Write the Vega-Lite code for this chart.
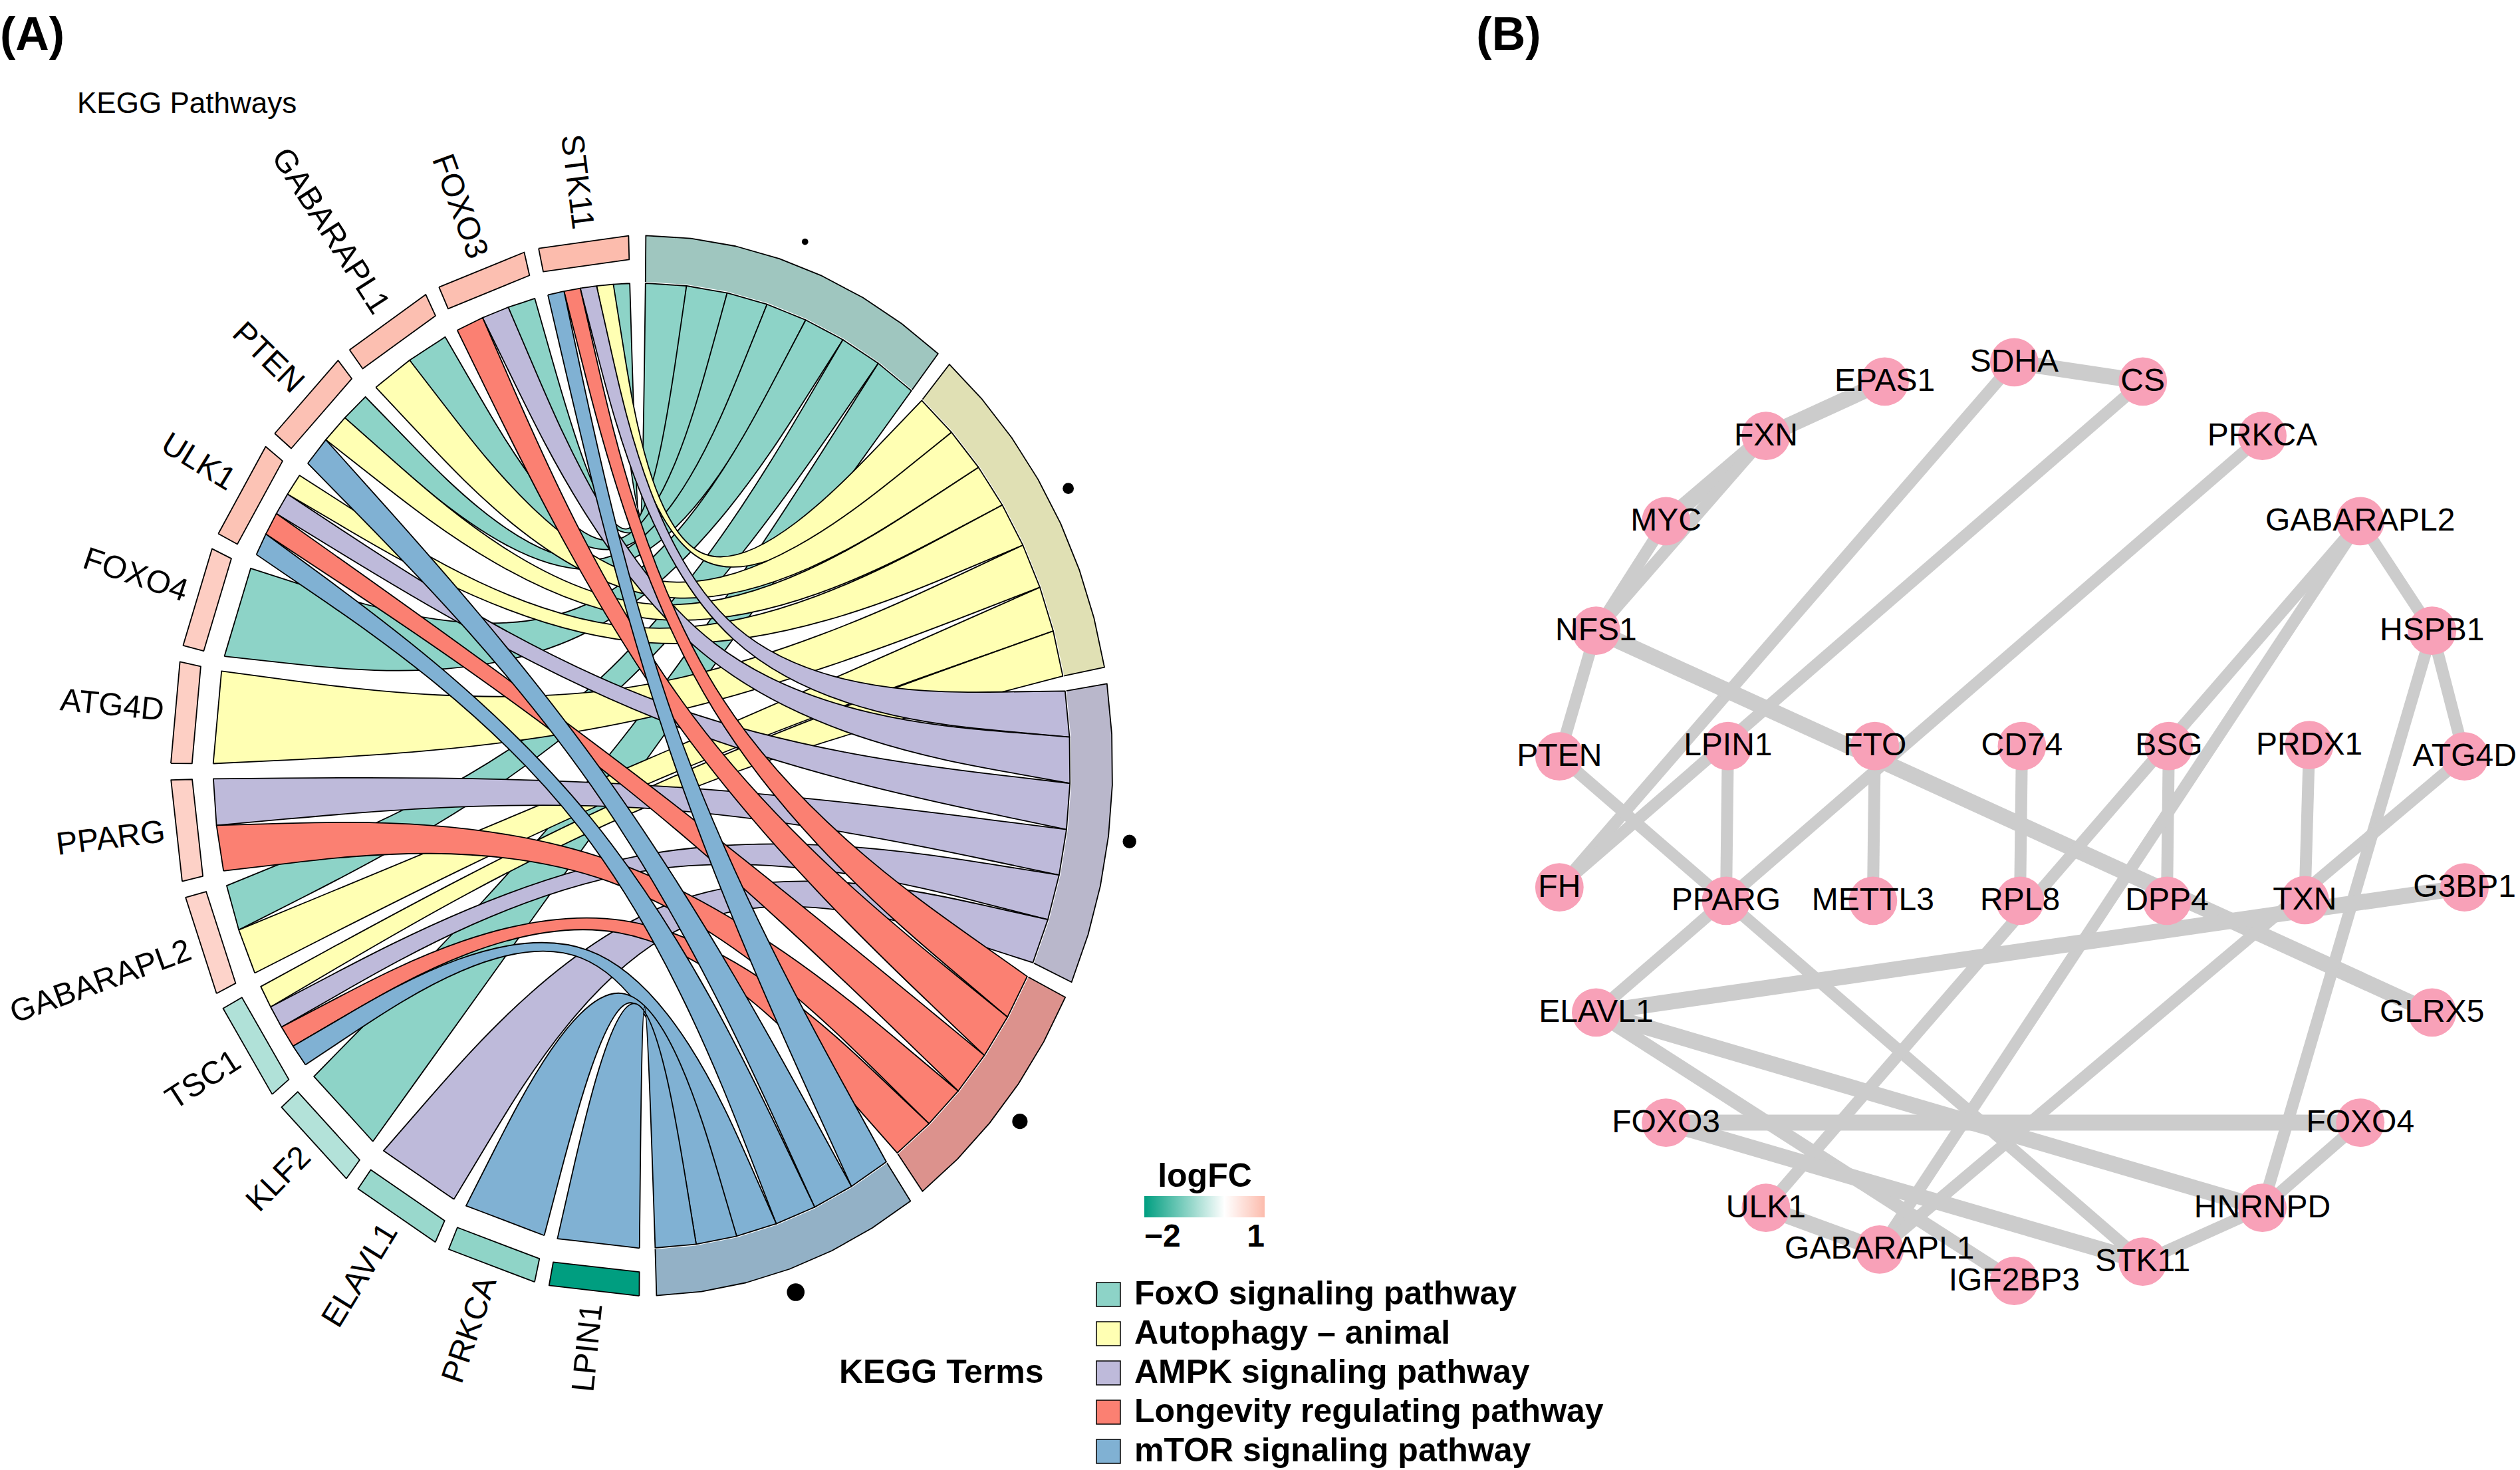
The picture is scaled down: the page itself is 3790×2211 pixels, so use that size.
{
"$schema": "https://vega.github.io/schema/vega-lite/v6.json",
"width": 3790, "height": 2211, "padding": 0,
"autosize": {"type": "fit", "contains": "padding"},
"background": "white",
"config": {"view": {"stroke": null}, "font": "Liberation Sans"},
"resolve": {"scale": {"x": "independent", "y": "independent", "fill": "independent", "size": "independent", "strokeWidth": "independent"}, "legend": {"fill": "independent"}},
"datasets": {
"wedges": [
{"t":"FoxO signaling pathway","o":0,"x":0,"y":0},
{"t":"FoxO signaling pathway","o":1,"x":0.00873,"y":0.99996},
{"t":"FoxO signaling pathway","o":2,"x":0.10453,"y":0.99452},
{"t":"FoxO signaling pathway","o":3,"x":0.19937,"y":0.97992},
{"t":"FoxO signaling pathway","o":4,"x":0.29237,"y":0.9563},
{"t":"FoxO signaling pathway","o":5,"x":0.38268,"y":0.92388},
{"t":"FoxO signaling pathway","o":6,"x":0.46947,"y":0.88295},
{"t":"FoxO signaling pathway","o":7,"x":0.55194,"y":0.83389},
{"t":"FoxO signaling pathway","o":8,"x":0.62932,"y":0.77715},
{"t":"FoxO signaling pathway","o":9,"x":0,"y":0},
{"t":"Autophagy – animal","o":0,"x":0,"y":0},
{"t":"Autophagy – animal","o":1,"x":0.65342,"y":0.75699},
{"t":"Autophagy – animal","o":2,"x":0.72297,"y":0.69089},
{"t":"Autophagy – animal","o":3,"x":0.78586,"y":0.61841},
{"t":"Autophagy – animal","o":4,"x":0.84151,"y":0.54024},
{"t":"Autophagy – animal","o":5,"x":0.88942,"y":0.4571},
{"t":"Autophagy – animal","o":6,"x":0.92913,"y":0.36975},
{"t":"Autophagy – animal","o":7,"x":0.9603,"y":0.27899},
{"t":"Autophagy – animal","o":8,"x":0.98261,"y":0.18567},
{"t":"Autophagy – animal","o":9,"x":0,"y":0},
{"t":"AMPK signaling pathway","o":0,"x":0,"y":0},
{"t":"AMPK signaling pathway","o":1,"x":0.98796,"y":0.15471},
{"t":"AMPK signaling pathway","o":2,"x":0.99824,"y":0.05931},
{"t":"AMPK signaling pathway","o":3,"x":0.99933,"y":-0.03664},
{"t":"AMPK signaling pathway","o":4,"x":0.99122,"y":-0.13226},
{"t":"AMPK signaling pathway","o":5,"x":0.97398,"y":-0.22665},
{"t":"AMPK signaling pathway","o":6,"x":0.94777,"y":-0.31896},
{"t":"AMPK signaling pathway","o":7,"x":0.91284,"y":-0.40833},
{"t":"AMPK signaling pathway","o":8,"x":0,"y":0},
{"t":"Longevity regulating pathway","o":0,"x":0,"y":0},
{"t":"Longevity regulating pathway","o":1,"x":0.89956,"y":-0.4368},
{"t":"Longevity regulating pathway","o":2,"x":0.85355,"y":-0.52101},
{"t":"Longevity regulating pathway","o":3,"x":0.79969,"y":-0.60043},
{"t":"Longevity regulating pathway","o":4,"x":0.73845,"y":-0.6743},
{"t":"Longevity regulating pathway","o":5,"x":0.67043,"y":-0.74197},
{"t":"Longevity regulating pathway","o":6,"x":0.59623,"y":-0.80282},
{"t":"Longevity regulating pathway","o":7,"x":0,"y":0},
{"t":"mTOR signaling pathway","o":0,"x":0,"y":0},
{"t":"mTOR signaling pathway","o":1,"x":0.57072,"y":-0.82115},
{"t":"mTOR signaling pathway","o":2,"x":0.48938,"y":-0.87207},
{"t":"mTOR signaling pathway","o":3,"x":0.40355,"y":-0.91497},
{"t":"mTOR signaling pathway","o":4,"x":0.314,"y":-0.94943},
{"t":"mTOR signaling pathway","o":5,"x":0.22155,"y":-0.97515},
{"t":"mTOR signaling pathway","o":6,"x":0.12706,"y":-0.99189},
{"t":"mTOR signaling pathway","o":7,"x":0.03141,"y":-0.99951},
{"t":"mTOR signaling pathway","o":8,"x":0,"y":0}
],
"genes": [
{"g":"LPIN1","v":-2,"o":0,"x":-0.00524,"y":-0.99999},{"g":"LPIN1","v":-2,"o":1,"x":-0.1968,"y":-0.98044},{"g":"LPIN1","v":-2,"o":2,"x":-0.18794,"y":-0.93632},{"g":"LPIN1","v":-2,"o":3,"x":-0.005,"y":-0.95499},{"g":"LPIN1","v":-2,"o":4,"x":-0.00524,"y":-0.99999},
{"g":"PRKCA","v":-0.88,"o":0,"x":-0.2275,"y":-0.97378},{"g":"PRKCA","v":-0.88,"o":1,"x":-0.40993,"y":-0.91213},{"g":"PRKCA","v":-0.88,"o":2,"x":-0.39148,"y":-0.87108},{"g":"PRKCA","v":-0.88,"o":3,"x":-0.21726,"y":-0.92996},{"g":"PRKCA","v":-0.88,"o":4,"x":-0.2275,"y":-0.97378},
{"g":"ELAVL1","v":-0.8,"o":0,"x":-0.43837,"y":-0.89879},{"g":"ELAVL1","v":-0.8,"o":1,"x":-0.60252,"y":-0.79811},{"g":"ELAVL1","v":-0.8,"o":2,"x":-0.57541,"y":-0.7622},{"g":"ELAVL1","v":-0.8,"o":3,"x":-0.41864,"y":-0.85834},{"g":"ELAVL1","v":-0.8,"o":4,"x":-0.43837,"y":-0.89879},
{"g":"KLF2","v":-0.6,"o":0,"x":-0.62729,"y":-0.7788},{"g":"KLF2","v":-0.6,"o":1,"x":-0.76492,"y":-0.64413},{"g":"KLF2","v":-0.6,"o":2,"x":-0.7305,"y":-0.61514},{"g":"KLF2","v":-0.6,"o":3,"x":-0.59906,"y":-0.74375},{"g":"KLF2","v":-0.6,"o":4,"x":-0.62729,"y":-0.7788},
{"g":"TSC1","v":-0.62,"o":0,"x":-0.78478,"y":-0.61978},{"g":"TSC1","v":-0.62,"o":1,"x":-0.88902,"y":-0.45788},{"g":"TSC1","v":-0.62,"o":2,"x":-0.84901,"y":-0.43728},{"g":"TSC1","v":-0.62,"o":3,"x":-0.74946,"y":-0.59189},{"g":"TSC1","v":-0.62,"o":4,"x":-0.78478,"y":-0.61978},
{"g":"GABARAPL2","v":0.65,"o":0,"x":-0.90296,"y":-0.42973},{"g":"GABARAPL2","v":0.65,"o":1,"x":-0.96859,"y":-0.24869},{"g":"GABARAPL2","v":0.65,"o":2,"x":-0.925,"y":-0.2375},{"g":"GABARAPL2","v":0.65,"o":3,"x":-0.86233,"y":-0.41039},{"g":"GABARAPL2","v":0.65,"o":4,"x":-0.90296,"y":-0.42973},
{"g":"PPARG","v":0.68,"o":0,"x":-0.97592,"y":-0.21814},{"g":"PPARG","v":0.68,"o":1,"x":-0.99963,"y":-0.02705},{"g":"PPARG","v":0.68,"o":2,"x":-0.95465,"y":-0.02583},{"g":"PPARG","v":0.68,"o":3,"x":-0.932,"y":-0.20832},{"g":"PPARG","v":0.68,"o":4,"x":-0.97592,"y":-0.21814},
{"g":"ATG4D","v":0.72,"o":0,"x":-0.99999,"y":0.00436},{"g":"ATG4D","v":0.72,"o":1,"x":-0.98062,"y":0.19595},{"g":"ATG4D","v":0.72,"o":2,"x":-0.93649,"y":0.18713},{"g":"ATG4D","v":0.72,"o":3,"x":-0.95499,"y":0.00416},{"g":"ATG4D","v":0.72,"o":4,"x":-0.99999,"y":0.00436},
{"g":"FOXO4","v":0.75,"o":0,"x":-0.97398,"y":0.22665},{"g":"FOXO4","v":0.75,"o":1,"x":-0.91249,"y":0.40913},{"g":"FOXO4","v":0.75,"o":2,"x":-0.87143,"y":0.39072},{"g":"FOXO4","v":0.75,"o":3,"x":-0.93015,"y":0.21645},{"g":"FOXO4","v":0.75,"o":4,"x":-0.97398,"y":0.22665},
{"g":"ULK1","v":0.9,"o":0,"x":-0.89917,"y":0.43759},{"g":"ULK1","v":0.9,"o":1,"x":-0.79864,"y":0.60182},{"g":"ULK1","v":0.9,"o":2,"x":-0.7627,"y":0.57474},{"g":"ULK1","v":0.9,"o":3,"x":-0.85871,"y":0.4179},{"g":"ULK1","v":0.9,"o":4,"x":-0.89917,"y":0.43759},
{"g":"PTEN","v":0.92,"o":0,"x":-0.77935,"y":0.62661},{"g":"PTEN","v":0.92,"o":1,"x":-0.6448,"y":0.76436},{"g":"PTEN","v":0.92,"o":2,"x":-0.61578,"y":0.72996},{"g":"PTEN","v":0.92,"o":3,"x":-0.74428,"y":0.59841},{"g":"PTEN","v":0.92,"o":4,"x":-0.77935,"y":0.62661},
{"g":"GABARAPL1","v":0.95,"o":0,"x":-0.62047,"y":0.78424},{"g":"GABARAPL1","v":0.95,"o":1,"x":-0.45865,"y":0.88862},{"g":"GABARAPL1","v":0.95,"o":2,"x":-0.43801,"y":0.84863},{"g":"GABARAPL1","v":0.95,"o":3,"x":-0.59255,"y":0.74895},{"g":"GABARAPL1","v":0.95,"o":4,"x":-0.62047,"y":0.78424},
{"g":"FOXO3","v":0.95,"o":0,"x":-0.43051,"y":0.90259},{"g":"FOXO3","v":0.95,"o":1,"x":-0.24954,"y":0.96837},{"g":"FOXO3","v":0.95,"o":2,"x":-0.23831,"y":0.92479},{"g":"FOXO3","v":0.95,"o":3,"x":-0.41114,"y":0.86197},{"g":"FOXO3","v":0.95,"o":4,"x":-0.43051,"y":0.90259},
{"g":"STK11","v":1,"o":0,"x":-0.21899,"y":0.97573},{"g":"STK11","v":1,"o":1,"x":-0.02792,"y":0.99961},{"g":"STK11","v":1,"o":2,"x":-0.02666,"y":0.95463},{"g":"STK11","v":1,"o":3,"x":-0.20914,"y":0.93182},{"g":"STK11","v":1,"o":4,"x":-0.21899,"y":0.97573}
],
"labels": [
{"g":"LPIN1","x":-0.10352,"y":-1.01474,"a":-84.2},
{"g":"PRKCA","x":-0.3266,"y":-0.9663,"a":-71.3},
{"g":"ELAVL1","x":-0.53333,"y":-0.86946,"a":-58.5},
{"g":"KLF2","x":-0.71335,"y":-0.72907,"a":-45.6},
{"g":"TSC1","x":-0.85762,"y":-0.55217,"a":-32.8},
{"g":"GABARAPL2","x":-0.95894,"y":-0.34761,"a":-19.9},
{"g":"PPARG","x":-1.01223,"y":-0.12563,"a":-7.1},
{"g":"ATG4D","x":-1.01482,"y":0.10263,"a":5.8},
{"g":"FOXO4","x":-0.96658,"y":0.32576,"a":18.6},
{"g":"ULK1","x":-0.86993,"y":0.53257,"a":31.5},
{"g":"PTEN","x":-0.7297,"y":0.71271,"a":44.3},
{"g":"GABARAPL1","x":-0.55292,"y":0.85715,"a":57.2},
{"g":"FOXO3","x":-0.34844,"y":0.95864,"a":70.0},
{"g":"STK11","x":-0.12651,"y":1.01213,"a":82.9}
],
"dots": [
{"t":"FoxO signaling pathway","x":0.3468,"y":0.9882,"s":1.2},
{"t":"Autophagy – animal","x":0.9058,"y":0.523,"s":3.6},
{"t":"AMPK signaling pathway","x":1.0358,"y":-0.143,"s":5.3},
{"t":"Longevity regulating pathway","x":0.8031,"y":-0.6709,"s":6.8},
{"t":"mTOR signaling pathway","x":0.327,"y":-0.993,"s":9}
],
"ribbons": [
{"r":"F1","t":"FoxO signaling pathway","o":0,"x":-0.06627,"y":0.9978,"k":[0,1,2]},
{"r":"F1","t":"FoxO signaling pathway","o":1,"x":-0.02792,"y":0.99961,"k":[0,1,2]},
{"r":"F1","t":"FoxO signaling pathway","o":2,"x":-0.0024,"y":0.24995,"k":[0]},
{"r":"F1","t":"FoxO signaling pathway","o":3,"x":0.00873,"y":0.99996,"k":[0,1,2]},
{"r":"F1","t":"FoxO signaling pathway","o":4,"x":0.10453,"y":0.99452,"k":[0,1,2]},
{"r":"F1","t":"FoxO signaling pathway","o":5,"x":0.00478,"y":0.24904,"k":[0]},
{"r":"F1","t":"FoxO signaling pathway","o":6,"x":-0.06627,"y":0.9978,"k":[0,1,2]},
{"r":"F2","t":"FoxO signaling pathway","o":0,"x":-0.31151,"y":0.95025,"k":[0,1,2]},
{"r":"F2","t":"FoxO signaling pathway","o":1,"x":-0.24954,"y":0.96837,"k":[0,1,2]},
{"r":"F2","t":"FoxO signaling pathway","o":2,"x":-0.01813,"y":0.24536,"k":[0]},
{"r":"F2","t":"FoxO signaling pathway","o":3,"x":0.10453,"y":0.99452,"k":[0,1,2]},
{"r":"F2","t":"FoxO signaling pathway","o":4,"x":0.19937,"y":0.97992,"k":[0,1,2]},
{"r":"F2","t":"FoxO signaling pathway","o":5,"x":-0.01402,"y":0.24127,"k":[0]},
{"r":"F2","t":"FoxO signaling pathway","o":6,"x":-0.31151,"y":0.95025,"k":[0,1,2]},
{"r":"F3","t":"FoxO signaling pathway","o":0,"x":-0.54171,"y":0.84057,"k":[0,1,2]},
{"r":"F3","t":"FoxO signaling pathway","o":1,"x":-0.45865,"y":0.88862,"k":[0,1,2]},
{"r":"F3","t":"FoxO signaling pathway","o":2,"x":-0.03241,"y":0.23357,"k":[0]},
{"r":"F3","t":"FoxO signaling pathway","o":3,"x":0.19937,"y":0.97992,"k":[0,1,2]},
{"r":"F3","t":"FoxO signaling pathway","o":4,"x":0.29237,"y":0.9563,"k":[0,1,2]},
{"r":"F3","t":"FoxO signaling pathway","o":5,"x":-0.03117,"y":0.22461,"k":[0]},
{"r":"F3","t":"FoxO signaling pathway","o":6,"x":-0.54171,"y":0.84057,"k":[0,1,2]},
{"r":"F4","t":"FoxO signaling pathway","o":0,"x":-0.69278,"y":0.72116,"k":[0,1,2]},
{"r":"F4","t":"FoxO signaling pathway","o":1,"x":-0.6448,"y":0.76436,"k":[0,1,2]},
{"r":"F4","t":"FoxO signaling pathway","o":2,"x":-0.04405,"y":0.21508,"k":[0]},
{"r":"F4","t":"FoxO signaling pathway","o":3,"x":0.29237,"y":0.9563,"k":[0,1,2]},
{"r":"F4","t":"FoxO signaling pathway","o":4,"x":0.38268,"y":0.92388,"k":[0,1,2]},
{"r":"F4","t":"FoxO signaling pathway","o":5,"x":-0.03876,"y":0.20563,"k":[0]},
{"r":"F4","t":"FoxO signaling pathway","o":6,"x":-0.69278,"y":0.72116,"k":[0,1,2]},
{"r":"F5","t":"FoxO signaling pathway","o":0,"x":-0.97398,"y":0.22665,"k":[0,1,2]},
{"r":"F5","t":"FoxO signaling pathway","o":1,"x":-0.91249,"y":0.40913,"k":[0,1,2]},
{"r":"F5","t":"FoxO signaling pathway","o":2,"x":-0.06623,"y":0.16663,"k":[0]},
{"r":"F5","t":"FoxO signaling pathway","o":3,"x":0.38268,"y":0.92388,"k":[0,1,2]},
{"r":"F5","t":"FoxO signaling pathway","o":4,"x":0.46947,"y":0.88295,"k":[0,1,2]},
{"r":"F5","t":"FoxO signaling pathway","o":5,"x":-0.06306,"y":0.1387,"k":[0]},
{"r":"F5","t":"FoxO signaling pathway","o":6,"x":-0.97398,"y":0.22665,"k":[0,1,2]},
{"r":"F6","t":"FoxO signaling pathway","o":0,"x":-0.94029,"y":-0.34038,"k":[0,1,2]},
{"r":"F6","t":"FoxO signaling pathway","o":1,"x":-0.96859,"y":-0.24869,"k":[0,1,2]},
{"r":"F6","t":"FoxO signaling pathway","o":2,"x":-0.06239,"y":0.07928,"k":[0]},
{"r":"F6","t":"FoxO signaling pathway","o":3,"x":0.46947,"y":0.88295,"k":[0,1,2]},
{"r":"F6","t":"FoxO signaling pathway","o":4,"x":0.55194,"y":0.83389,"k":[0,1,2]},
{"r":"F6","t":"FoxO signaling pathway","o":5,"x":-0.04854,"y":0.06169,"k":[0]},
{"r":"F6","t":"FoxO signaling pathway","o":6,"x":-0.94029,"y":-0.34038,"k":[0,1,2]},
{"r":"F7","t":"FoxO signaling pathway","o":0,"x":-0.62729,"y":-0.7788,"k":[0,1,2]},
{"r":"F7","t":"FoxO signaling pathway","o":1,"x":-0.76492,"y":-0.64413,"k":[0,1,2]},
{"r":"F7","t":"FoxO signaling pathway","o":2,"x":-0.02662,"y":0.02372,"k":[0]},
{"r":"F7","t":"FoxO signaling pathway","o":3,"x":0.55194,"y":0.83389,"k":[0,1,2]},
{"r":"F7","t":"FoxO signaling pathway","o":4,"x":0.62932,"y":0.77715,"k":[0,1,2]},
{"r":"F7","t":"FoxO signaling pathway","o":5,"x":0.00025,"y":-0.00021,"k":[0]},
{"r":"F7","t":"FoxO signaling pathway","o":6,"x":-0.62729,"y":-0.7788,"k":[0,1,2]},
{"r":"A1","t":"Autophagy – animal","o":0,"x":-0.1054,"y":0.99443,"k":[0,1,2]},
{"r":"A1","t":"Autophagy – animal","o":1,"x":-0.06627,"y":0.9978,"k":[0,1,2]},
{"r":"A1","t":"Autophagy – animal","o":2,"x":0.07339,"y":0.21935,"k":[0]},
{"r":"A1","t":"Autophagy – animal","o":3,"x":0.65342,"y":0.75699,"k":[0,1,2]},
{"r":"A1","t":"Autophagy – animal","o":4,"x":0.72297,"y":0.69089,"k":[0,1,2]},
{"r":"A1","t":"Autophagy – animal","o":5,"x":0.0772,"y":0.21067,"k":[0]},
{"r":"A1","t":"Autophagy – animal","o":6,"x":-0.1054,"y":0.99443,"k":[0,1,2]},
{"r":"A2","t":"Autophagy – animal","o":0,"x":-0.62047,"y":0.78424,"k":[0,1,2]},
{"r":"A2","t":"Autophagy – animal","o":1,"x":-0.54171,"y":0.84057,"k":[0,1,2]},
{"r":"A2","t":"Autophagy – animal","o":2,"x":0.02266,"y":0.19143,"k":[0]},
{"r":"A2","t":"Autophagy – animal","o":3,"x":0.72297,"y":0.69089,"k":[0,1,2]},
{"r":"A2","t":"Autophagy – animal","o":4,"x":0.78586,"y":0.61841,"k":[0,1,2]},
{"r":"A2","t":"Autophagy – animal","o":5,"x":0.02067,"y":0.17533,"k":[0]},
{"r":"A2","t":"Autophagy – animal","o":6,"x":-0.62047,"y":0.78424,"k":[0,1,2]},
{"r":"A3","t":"Autophagy – animal","o":0,"x":-0.73728,"y":0.67559,"k":[0,1,2]},
{"r":"A3","t":"Autophagy – animal","o":1,"x":-0.69278,"y":0.72116,"k":[0,1,2]},
{"r":"A3","t":"Autophagy – animal","o":2,"x":0.01164,"y":0.16745,"k":[0]},
{"r":"A3","t":"Autophagy – animal","o":3,"x":0.78586,"y":0.61841,"k":[0,1,2]},
{"r":"A3","t":"Autophagy – animal","o":4,"x":0.84151,"y":0.54024,"k":[0,1,2]},
{"r":"A3","t":"Autophagy – animal","o":5,"x":0.01303,"y":0.15198,"k":[0]},
{"r":"A3","t":"Autophagy – animal","o":6,"x":-0.73728,"y":0.67559,"k":[0,1,2]},
{"r":"A4","t":"Autophagy – animal","o":0,"x":-0.82659,"y":0.5628,"k":[0,1,2]},
{"r":"A4","t":"Autophagy – animal","o":1,"x":-0.79864,"y":0.60182,"k":[0,1,2]},
{"r":"A4","t":"Autophagy – animal","o":2,"x":0.00536,"y":0.14276,"k":[0]},
{"r":"A4","t":"Autophagy – animal","o":3,"x":0.84151,"y":0.54024,"k":[0,1,2]},
{"r":"A4","t":"Autophagy – animal","o":4,"x":0.88942,"y":0.4571,"k":[0,1,2]},
{"r":"A4","t":"Autophagy – animal","o":5,"x":0.00785,"y":0.12749,"k":[0]},
{"r":"A4","t":"Autophagy – animal","o":6,"x":-0.82659,"y":0.5628,"k":[0,1,2]},
{"r":"A5","t":"Autophagy – animal","o":0,"x":-0.99999,"y":0.00436,"k":[0,1,2]},
{"r":"A5","t":"Autophagy – animal","o":1,"x":-0.98062,"y":0.19595,"k":[0,1,2]},
{"r":"A5","t":"Autophagy – animal","o":2,"x":-0.0114,"y":0.08163,"k":[0]},
{"r":"A5","t":"Autophagy – animal","o":3,"x":0.88942,"y":0.4571,"k":[0,1,2]},
{"r":"A5","t":"Autophagy – animal","o":4,"x":0.92913,"y":0.36975,"k":[0,1,2]},
{"r":"A5","t":"Autophagy – animal","o":5,"x":-0.00886,"y":0.04676,"k":[0]},
{"r":"A5","t":"Autophagy – animal","o":6,"x":-0.99999,"y":0.00436,"k":[0,1,2]},
{"r":"A6","t":"Autophagy – animal","o":0,"x":-0.90296,"y":-0.42973,"k":[0,1,2]},
{"r":"A6","t":"Autophagy – animal","o":1,"x":-0.94029,"y":-0.34038,"k":[0,1,2]},
{"r":"A6","t":"Autophagy – animal","o":2,"x":-0.0014,"y":0.00367,"k":[0]},
{"r":"A6","t":"Autophagy – animal","o":3,"x":0.92913,"y":0.36975,"k":[0,1,2]},
{"r":"A6","t":"Autophagy – animal","o":4,"x":0.9603,"y":0.27899,"k":[0,1,2]},
{"r":"A6","t":"Autophagy – animal","o":5,"x":0.00717,"y":-0.01884,"k":[0]},
{"r":"A6","t":"Autophagy – animal","o":6,"x":-0.90296,"y":-0.42973,"k":[0,1,2]},
{"r":"A7","t":"Autophagy – animal","o":0,"x":-0.86603,"y":-0.5,"k":[0,1,2]},
{"r":"A7","t":"Autophagy – animal","o":1,"x":-0.88902,"y":-0.45788,"k":[0,1,2]},
{"r":"A7","t":"Autophagy – animal","o":2,"x":0.00891,"y":-0.02236,"k":[0]},
{"r":"A7","t":"Autophagy – animal","o":3,"x":0.9603,"y":0.27899,"k":[0,1,2]},
{"r":"A7","t":"Autophagy – animal","o":4,"x":0.98261,"y":0.18567,"k":[0,1,2]},
{"r":"A7","t":"Autophagy – animal","o":5,"x":0.01457,"y":-0.03929,"k":[0]},
{"r":"A7","t":"Autophagy – animal","o":6,"x":-0.86603,"y":-0.5,"k":[0,1,2]},
{"r":"M1","t":"AMPK signaling pathway","o":0,"x":-0.14349,"y":0.98965,"k":[0,1,2]},
{"r":"M1","t":"AMPK signaling pathway","o":1,"x":-0.1054,"y":0.99443,"k":[0,1,2]},
{"r":"M1","t":"AMPK signaling pathway","o":2,"x":0.11032,"y":0.14364,"k":[0]},
{"r":"M1","t":"AMPK signaling pathway","o":3,"x":0.98796,"y":0.15471,"k":[0,1,2]},
{"r":"M1","t":"AMPK signaling pathway","o":4,"x":0.99824,"y":0.05931,"k":[0,1,2]},
{"r":"M1","t":"AMPK signaling pathway","o":5,"x":0.10684,"y":0.13112,"k":[0]},
{"r":"M1","t":"AMPK signaling pathway","o":6,"x":-0.14349,"y":0.98965,"k":[0,1,2]},
{"r":"M2","t":"AMPK signaling pathway","o":0,"x":-0.37137,"y":0.92849,"k":[0,1,2]},
{"r":"M2","t":"AMPK signaling pathway","o":1,"x":-0.31151,"y":0.95025,"k":[0,1,2]},
{"r":"M2","t":"AMPK signaling pathway","o":2,"x":0.08584,"y":0.1262,"k":[0]},
{"r":"M2","t":"AMPK signaling pathway","o":3,"x":0.99824,"y":0.05931,"k":[0,1,2]},
{"r":"M2","t":"AMPK signaling pathway","o":4,"x":0.99933,"y":-0.03664,"k":[0,1,2]},
{"r":"M2","t":"AMPK signaling pathway","o":5,"x":0.0785,"y":0.11148,"k":[0]},
{"r":"M2","t":"AMPK signaling pathway","o":6,"x":-0.37137,"y":0.92849,"k":[0,1,2]},
{"r":"M3","t":"AMPK signaling pathway","o":0,"x":-0.85264,"y":0.5225,"k":[0,1,2]},
{"r":"M3","t":"AMPK signaling pathway","o":1,"x":-0.82659,"y":0.5628,"k":[0,1,2]},
{"r":"M3","t":"AMPK signaling pathway","o":2,"x":0.02159,"y":0.06577,"k":[0]},
{"r":"M3","t":"AMPK signaling pathway","o":3,"x":0.99933,"y":-0.03664,"k":[0,1,2]},
{"r":"M3","t":"AMPK signaling pathway","o":4,"x":0.99122,"y":-0.13226,"k":[0,1,2]},
{"r":"M3","t":"AMPK signaling pathway","o":5,"x":0.01732,"y":0.04878,"k":[0]},
{"r":"M3","t":"AMPK signaling pathway","o":6,"x":-0.85264,"y":0.5225,"k":[0,1,2]},
{"r":"M4","t":"AMPK signaling pathway","o":0,"x":-0.99233,"y":-0.1236,"k":[0,1,2]},
{"r":"M4","t":"AMPK signaling pathway","o":1,"x":-0.99963,"y":-0.02705,"k":[0,1,2]},
{"r":"M4","t":"AMPK signaling pathway","o":2,"x":-0.00105,"y":-0.01991,"k":[0]},
{"r":"M4","t":"AMPK signaling pathway","o":3,"x":0.99122,"y":-0.13226,"k":[0,1,2]},
{"r":"M4","t":"AMPK signaling pathway","o":4,"x":0.97398,"y":-0.22665,"k":[0,1,2]},
{"r":"M4","t":"AMPK signaling pathway","o":5,"x":-0.00229,"y":-0.04378,"k":[0]},
{"r":"M4","t":"AMPK signaling pathway","o":6,"x":-0.99233,"y":-0.1236,"k":[0,1,2]},
{"r":"M5","t":"AMPK signaling pathway","o":0,"x":-0.84057,"y":-0.54171,"k":[0,1,2]},
{"r":"M5","t":"AMPK signaling pathway","o":1,"x":-0.86603,"y":-0.5,"k":[0,1,2]},
{"r":"M5","t":"AMPK signaling pathway","o":2,"x":0.01349,"y":-0.09083,"k":[0]},
{"r":"M5","t":"AMPK signaling pathway","o":3,"x":0.97398,"y":-0.22665,"k":[0,1,2]},
{"r":"M5","t":"AMPK signaling pathway","o":4,"x":0.94777,"y":-0.31896,"k":[0,1,2]},
{"r":"M5","t":"AMPK signaling pathway","o":5,"x":0.0134,"y":-0.10758,"k":[0]},
{"r":"M5","t":"AMPK signaling pathway","o":6,"x":-0.84057,"y":-0.54171,"k":[0,1,2]},
{"r":"M6","t":"AMPK signaling pathway","o":0,"x":-0.43837,"y":-0.89879,"k":[0,1,2]},
{"r":"M6","t":"AMPK signaling pathway","o":1,"x":-0.60252,"y":-0.79811,"k":[0,1,2]},
{"r":"M6","t":"AMPK signaling pathway","o":2,"x":0.04316,"y":-0.13963,"k":[0]},
{"r":"M6","t":"AMPK signaling pathway","o":3,"x":0.94777,"y":-0.31896,"k":[0,1,2]},
{"r":"M6","t":"AMPK signaling pathway","o":4,"x":0.91284,"y":-0.40833,"k":[0,1,2]},
{"r":"M6","t":"AMPK signaling pathway","o":5,"x":0.05931,"y":-0.16339,"k":[0]},
{"r":"M6","t":"AMPK signaling pathway","o":6,"x":-0.43837,"y":-0.89879,"k":[0,1,2]},
{"r":"L1","t":"Longevity regulating pathway","o":0,"x":-0.18138,"y":0.98341,"k":[0,1,2]},
{"r":"L1","t":"Longevity regulating pathway","o":1,"x":-0.14349,"y":0.98965,"k":[0,1,2]},
{"r":"L1","t":"Longevity regulating pathway","o":2,"x":0.09451,"y":0.06911,"k":[0]},
{"r":"L1","t":"Longevity regulating pathway","o":3,"x":0.89956,"y":-0.4368,"k":[0,1,2]},
{"r":"L1","t":"Longevity regulating pathway","o":4,"x":0.85355,"y":-0.52101,"k":[0,1,2]},
{"r":"L1","t":"Longevity regulating pathway","o":5,"x":0.08402,"y":0.0578,"k":[0]},
{"r":"L1","t":"Longevity regulating pathway","o":6,"x":-0.18138,"y":0.98341,"k":[0,1,2]},
{"r":"L2","t":"Longevity regulating pathway","o":0,"x":-0.43051,"y":0.90259,"k":[0,1,2]},
{"r":"L2","t":"Longevity regulating pathway","o":1,"x":-0.37137,"y":0.92849,"k":[0,1,2]},
{"r":"L2","t":"Longevity regulating pathway","o":2,"x":0.06027,"y":0.05094,"k":[0]},
{"r":"L2","t":"Longevity regulating pathway","o":3,"x":0.85355,"y":-0.52101,"k":[0,1,2]},
{"r":"L2","t":"Longevity regulating pathway","o":4,"x":0.79969,"y":-0.60043,"k":[0,1,2]},
{"r":"L2","t":"Longevity regulating pathway","o":5,"x":0.04615,"y":0.03777,"k":[0]},
{"r":"L2","t":"Longevity regulating pathway","o":6,"x":-0.43051,"y":0.90259,"k":[0,1,2]},
{"r":"L3","t":"Longevity regulating pathway","o":0,"x":-0.87715,"y":0.48022,"k":[0,1,2]},
{"r":"L3","t":"Longevity regulating pathway","o":1,"x":-0.85264,"y":0.5225,"k":[0,1,2]},
{"r":"L3","t":"Longevity regulating pathway","o":2,"x":-0.00662,"y":-0.00974,"k":[0]},
{"r":"L3","t":"Longevity regulating pathway","o":3,"x":0.79969,"y":-0.60043,"k":[0,1,2]},
{"r":"L3","t":"Longevity regulating pathway","o":4,"x":0.73845,"y":-0.6743,"k":[0,1,2]},
{"r":"L3","t":"Longevity regulating pathway","o":5,"x":-0.01734,"y":-0.02426,"k":[0]},
{"r":"L3","t":"Longevity regulating pathway","o":6,"x":-0.87715,"y":0.48022,"k":[0,1,2]},
{"r":"L4","t":"Longevity regulating pathway","o":0,"x":-0.97592,"y":-0.21814,"k":[0,1,2]},
{"r":"L4","t":"Longevity regulating pathway","o":1,"x":-0.99233,"y":-0.1236,"k":[0,1,2]},
{"r":"L4","t":"Longevity regulating pathway","o":2,"x":-0.03174,"y":-0.09974,"k":[0]},
{"r":"L4","t":"Longevity regulating pathway","o":3,"x":0.73845,"y":-0.6743,"k":[0,1,2]},
{"r":"L4","t":"Longevity regulating pathway","o":4,"x":0.67043,"y":-0.74197,"k":[0,1,2]},
{"r":"L4","t":"Longevity regulating pathway","o":5,"x":-0.03819,"y":-0.12001,"k":[0]},
{"r":"L4","t":"Longevity regulating pathway","o":6,"x":-0.97592,"y":-0.21814,"k":[0,1,2]},
{"r":"L5","t":"Longevity regulating pathway","o":0,"x":-0.81361,"y":-0.58142,"k":[0,1,2]},
{"r":"L5","t":"Longevity regulating pathway","o":1,"x":-0.84057,"y":-0.54171,"k":[0,1,2]},
{"r":"L5","t":"Longevity regulating pathway","o":2,"x":-0.02127,"y":-0.16046,"k":[0]},
{"r":"L5","t":"Longevity regulating pathway","o":3,"x":0.67043,"y":-0.74197,"k":[0,1,2]},
{"r":"L5","t":"Longevity regulating pathway","o":4,"x":0.59623,"y":-0.80282,"k":[0,1,2]},
{"r":"L5","t":"Longevity regulating pathway","o":5,"x":-0.02717,"y":-0.17303,"k":[0]},
{"r":"L5","t":"Longevity regulating pathway","o":6,"x":-0.81361,"y":-0.58142,"k":[0,1,2]},
{"r":"T1","t":"mTOR signaling pathway","o":0,"x":-0.21899,"y":0.97573,"k":[0,1,2]},
{"r":"T1","t":"mTOR signaling pathway","o":1,"x":-0.18138,"y":0.98341,"k":[0,1,2]},
{"r":"T1","t":"mTOR signaling pathway","o":2,"x":0.04867,"y":0.02028,"k":[0]},
{"r":"T1","t":"mTOR signaling pathway","o":3,"x":0.57072,"y":-0.82115,"k":[0,1,2]},
{"r":"T1","t":"mTOR signaling pathway","o":4,"x":0.48938,"y":-0.87207,"k":[0,1,2]},
{"r":"T1","t":"mTOR signaling pathway","o":5,"x":0.0338,"y":0.01296,"k":[0]},
{"r":"T1","t":"mTOR signaling pathway","o":6,"x":-0.21899,"y":0.97573,"k":[0,1,2]},
{"r":"T2","t":"mTOR signaling pathway","o":0,"x":-0.77935,"y":0.62661,"k":[0,1,2]},
{"r":"T2","t":"mTOR signaling pathway","o":1,"x":-0.73728,"y":0.67559,"k":[0,1,2]},
{"r":"T2","t":"mTOR signaling pathway","o":2,"x":-0.03099,"y":-0.02456,"k":[0]},
{"r":"T2","t":"mTOR signaling pathway","o":3,"x":0.48938,"y":-0.87207,"k":[0,1,2]},
{"r":"T2","t":"mTOR signaling pathway","o":4,"x":0.40355,"y":-0.91497,"k":[0,1,2]},
{"r":"T2","t":"mTOR signaling pathway","o":5,"x":-0.04698,"y":-0.03605,"k":[0]},
{"r":"T2","t":"mTOR signaling pathway","o":6,"x":-0.77935,"y":0.62661,"k":[0,1,2]},
{"r":"T3","t":"mTOR signaling pathway","o":0,"x":-0.89917,"y":0.43759,"k":[0,1,2]},
{"r":"T3","t":"mTOR signaling pathway","o":1,"x":-0.87715,"y":0.48022,"k":[0,1,2]},
{"r":"T3","t":"mTOR signaling pathway","o":2,"x":-0.0592,"y":-0.05434,"k":[0]},
{"r":"T3","t":"mTOR signaling pathway","o":3,"x":0.40355,"y":-0.91497,"k":[0,1,2]},
{"r":"T3","t":"mTOR signaling pathway","o":4,"x":0.314,"y":-0.94943,"k":[0,1,2]},
{"r":"T3","t":"mTOR signaling pathway","o":5,"x":-0.07315,"y":-0.06398,"k":[0]},
{"r":"T3","t":"mTOR signaling pathway","o":6,"x":-0.89917,"y":0.43759,"k":[0,1,2]},
{"r":"T4","t":"mTOR signaling pathway","o":0,"x":-0.78478,"y":-0.61978,"k":[0,1,2]},
{"r":"T4","t":"mTOR signaling pathway","o":1,"x":-0.81361,"y":-0.58142,"k":[0,1,2]},
{"r":"T4","t":"mTOR signaling pathway","o":2,"x":-0.06245,"y":-0.19136,"k":[0]},
{"r":"T4","t":"mTOR signaling pathway","o":3,"x":0.314,"y":-0.94943,"k":[0,1,2]},
{"r":"T4","t":"mTOR signaling pathway","o":4,"x":0.22155,"y":-0.97515,"k":[0,1,2]},
{"r":"T4","t":"mTOR signaling pathway","o":5,"x":-0.0704,"y":-0.19937,"k":[0]},
{"r":"T4","t":"mTOR signaling pathway","o":6,"x":-0.78478,"y":-0.61978,"k":[0,1,2]},
{"r":"T5","t":"mTOR signaling pathway","o":0,"x":-0.2275,"y":-0.97378,"k":[0,1,2]},
{"r":"T5","t":"mTOR signaling pathway","o":1,"x":-0.40993,"y":-0.91213,"k":[0,1,2]},
{"r":"T5","t":"mTOR signaling pathway","o":2,"x":-0.02355,"y":-0.23591,"k":[0]},
{"r":"T5","t":"mTOR signaling pathway","o":3,"x":0.22155,"y":-0.97515,"k":[0,1,2]},
{"r":"T5","t":"mTOR signaling pathway","o":4,"x":0.12706,"y":-0.99189,"k":[0,1,2]},
{"r":"T5","t":"mTOR signaling pathway","o":5,"x":-0.01256,"y":-0.24571,"k":[0]},
{"r":"T5","t":"mTOR signaling pathway","o":6,"x":-0.2275,"y":-0.97378,"k":[0,1,2]},
{"r":"T6","t":"mTOR signaling pathway","o":0,"x":-0.00524,"y":-0.99999,"k":[0,1,2]},
{"r":"T6","t":"mTOR signaling pathway","o":1,"x":-0.1968,"y":-0.98044,"k":[0,1,2]},
{"r":"T6","t":"mTOR signaling pathway","o":2,"x":-0.00872,"y":-0.24654,"k":[0]},
{"r":"T6","t":"mTOR signaling pathway","o":3,"x":0.12706,"y":-0.99189,"k":[0,1,2]},
{"r":"T6","t":"mTOR signaling pathway","o":4,"x":0.03141,"y":-0.99951,"k":[0,1,2]},
{"r":"T6","t":"mTOR signaling pathway","o":5,"x":0.00327,"y":-0.24994,"k":[0]},
{"r":"T6","t":"mTOR signaling pathway","o":6,"x":-0.00524,"y":-0.99999,"k":[0,1,2]}
],
"nodes": [
{"id":"EPAS1","x":1172.7,"y":237.5},{"id":"SDHA","x":1253.3,"y":225.5},{"id":"CS","x":1333.3,"y":237.5},
{"id":"FXN","x":1098.8,"y":271.3},{"id":"PRKCA","x":1407.7,"y":271.3},{"id":"MYC","x":1036.6,"y":324.4},
{"id":"GABARAPL2","x":1468.6,"y":324.4},{"id":"NFS1","x":993.1,"y":392.6},{"id":"HSPB1","x":1513.3,"y":392.6},
{"id":"PTEN","x":970.3,"y":470.8},{"id":"LPIN1","x":1075.2,"y":464.4},{"id":"FTO","x":1166.6,"y":464.4},
{"id":"CD74","x":1258.1,"y":464.4},{"id":"BSG","x":1349.5,"y":464.4},{"id":"PRDX1","x":1436.9,"y":463.8},
{"id":"ATG4D","x":1533.5,"y":470.8},{"id":"FH","x":970.3,"y":552.3},{"id":"PPARG","x":1074,"y":560.7},
{"id":"METTL3","x":1165.4,"y":560.7},{"id":"RPL8","x":1256.9,"y":560.7},{"id":"DPP4","x":1348.3,"y":560.7},
{"id":"TXN","x":1434.1,"y":560.3},{"id":"G3BP1","x":1533.5,"y":552.3},{"id":"ELAVL1","x":993.1,"y":630.2},
{"id":"GLRX5","x":1513.3,"y":630.2},{"id":"FOXO3","x":1036.6,"y":698.8},{"id":"FOXO4","x":1468.6,"y":698.8},
{"id":"ULK1","x":1098.8,"y":751.8},{"id":"HNRNPD","x":1407.7,"y":751.8},{"id":"GABARAPL1","x":1169.5,"y":777.8},
{"id":"STK11","x":1333.3,"y":785.3},{"id":"IGF2BP3","x":1253.3,"y":797.3}
],
"edges": [
{"a":"EPAS1","b":"FXN","s":1},{"a":"FXN","b":"MYC","s":1},{"a":"FXN","b":"NFS1","s":0.75},{"a":"MYC","b":"NFS1","s":0.75},
{"a":"SDHA","b":"CS","s":1},{"a":"SDHA","b":"FH","s":0.75},{"a":"CS","b":"FH","s":0.75},{"a":"PRKCA","b":"ELAVL1","s":0.75},
{"a":"NFS1","b":"GLRX5","s":1},{"a":"NFS1","b":"PTEN","s":0.75},{"a":"PTEN","b":"STK11","s":0.75},{"a":"LPIN1","b":"PPARG","s":0.75},
{"a":"FTO","b":"METTL3","s":0.75},{"a":"CD74","b":"RPL8","s":0.75},{"a":"BSG","b":"DPP4","s":0.75},{"a":"GABARAPL2","b":"ULK1","s":0.75},
{"a":"GABARAPL2","b":"GABARAPL1","s":0.75},{"a":"GABARAPL2","b":"HSPB1","s":0.75},{"a":"HSPB1","b":"ATG4D","s":0.75},{"a":"HSPB1","b":"HNRNPD","s":0.75},
{"a":"ATG4D","b":"GABARAPL1","s":0.75},{"a":"PRDX1","b":"TXN","s":0.75},{"a":"ELAVL1","b":"G3BP1","s":1},{"a":"ELAVL1","b":"HNRNPD","s":1},
{"a":"ELAVL1","b":"IGF2BP3","s":0.85},{"a":"FOXO3","b":"FOXO4","s":1},{"a":"FOXO3","b":"STK11","s":1},{"a":"ULK1","b":"GABARAPL1","s":1},
{"a":"FOXO4","b":"HNRNPD","s":0.75},{"a":"HNRNPD","b":"STK11","s":0.75}
],
"headers": [
{"label":"(A)","x":0,"y":31},{"label":"(B)","x":918.6,"y":31}
],
"subtitles": [
{"label":"KEGG Pathways","x":48,"y":70.5}
]
},
"layer": [
{
"data": {"name": "wedges"},
"mark": {"type": "line", "interpolate": "linear", "stroke": "black", "strokeWidth": 1.8, "strokeJoin": "round"},
"encoding": {
"x": {"field": "x", "type": "quantitative", "scale": {"domain": [-1.3628, 3.98874], "nice": false, "zero": false}, "axis": null},
"y": {"field": "y", "type": "quantitative", "scale": {"domain": [-1.32848, 1.44424], "nice": false, "zero": false}, "axis": null},
"order": {"field": "o", "type": "quantitative"},
"detail": {"field": "t", "type": "nominal"},
"fill": {"field": "t", "type": "nominal", "scale": {"domain": ["FoxO signaling pathway","Autophagy – animal","AMPK signaling pathway","Longevity regulating pathway","mTOR signaling pathway"], "range": ["#9FC6BF","#E0E0B4","#B9B7CB","#DC928D","#93B1C6"]}, "legend": null}
}
},
{
"data": {"name": "genes"},
"mark": {"type": "line", "interpolate": "linear", "stroke": "black", "strokeWidth": 1.8, "strokeJoin": "round"},
"encoding": {
"x": {"field": "x", "type": "quantitative", "scale": {"domain": [-1.3628, 3.98874], "nice": false, "zero": false}, "axis": null},
"y": {"field": "y", "type": "quantitative", "scale": {"domain": [-1.32848, 1.44424], "nice": false, "zero": false}, "axis": null},
"order": {"field": "o", "type": "quantitative"},
"detail": {"field": "g", "type": "nominal"},
"fill": {"field": "v", "type": "quantitative", "scale": {"domain": [-2, 0, 1], "range": ["#009E80", "#FFFFFF", "#FCBCAD"], "interpolate": "rgb"},
  "legend": {"orient": "none", "legendX": 1721, "legendY": 1745, "direction": "horizontal", "title": "logFC", "titleFontSize": 50, "titleFontWeight": "bold", "titleFont": "Liberation Sans", "titleColor": "black", "titleAnchor": "middle", "titlePadding": 4, "titleLimit": 1000, "gradientLength": 181, "gradientThickness": 32, "gradientStrokeWidth": 0, "values": [-2, 1], "labelFontSize": 48, "labelFontWeight": "bold", "labelFont": "Liberation Sans", "labelColor": "black", "labelAlign": "center", "labelOffset": 6, "padding": 0}}
}
},
{
"data": {"name": "wedges"},
"mark": {"type": "line", "interpolate": "linear", "stroke": "white", "fill": "white", "strokeWidth": 4, "strokeJoin": "round"},
"encoding": {
"x": {"field": "x", "type": "quantitative", "scale": {"domain": [-1.49758, 4.38323], "nice": false, "zero": false}, "axis": null},
"y": {"field": "y", "type": "quantitative", "scale": {"domain": [-1.45987, 1.58708], "nice": false, "zero": false}, "axis": null},
"order": {"field": "o", "type": "quantitative"},
"detail": {"field": "t", "type": "nominal"}
}
},
{
"data": {"name": "ribbons"},
"transform": [{"filter": {"field": "t", "equal": "FoxO signaling pathway"}}, {"flatten": ["k"]}],
"mark": {"type": "line", "interpolate": "basis", "stroke": "black", "strokeWidth": 1.8, "strokeJoin": "round"},
"encoding": {
"x": {"field": "x", "type": "quantitative", "scale": {"domain": [-1.49758, 4.38323], "nice": false, "zero": false}, "axis": null},
"y": {"field": "y", "type": "quantitative", "scale": {"domain": [-1.45987, 1.58708], "nice": false, "zero": false}, "axis": null},
"order": {"field": "o", "type": "quantitative"},
"detail": {"field": "r", "type": "nominal"},
"fill": {"field": "t", "type": "nominal", "scale": {"domain": ["FoxO signaling pathway","Autophagy – animal","AMPK signaling pathway","Longevity regulating pathway","mTOR signaling pathway"], "range": ["#8DD3C7","#FFFFB3","#BEBADA","#FB8072","#80B1D3"]},
  "legend": {"orient": "none", "legendX": 1262, "legendY": 1922, "title": "KEGG Terms", "titleOrient": "left", "titleFontSize": 50, "titleFontWeight": "bold", "titleFont": "Liberation Sans", "titleColor": "black", "titlePadding": 72, "titleLimit": 1000, "symbolType": "square", "symbolSize": 1296, "symbolStrokeColor": "black", "symbolStrokeWidth": 1.5, "symbolOpacity": 1, "labelFontSize": 50, "labelFontWeight": "bold", "labelFont": "Liberation Sans", "labelColor": "black", "labelOffset": 14, "labelLimit": 1000, "rowPadding": 9, "padding": 0}}
}
},
{
"data": {"name": "ribbons"},
"transform": [{"filter": {"field": "t", "equal": "Autophagy – animal"}}, {"flatten": ["k"]}],
"mark": {"type": "line", "interpolate": "basis", "stroke": "black", "strokeWidth": 1.8, "strokeJoin": "round"},
"encoding": {
"x": {"field": "x", "type": "quantitative", "scale": {"domain": [-1.49758, 4.38323], "nice": false, "zero": false}, "axis": null},
"y": {"field": "y", "type": "quantitative", "scale": {"domain": [-1.45987, 1.58708], "nice": false, "zero": false}, "axis": null},
"order": {"field": "o", "type": "quantitative"},
"detail": {"field": "r", "type": "nominal"},
"fill": {"field": "t", "type": "nominal", "scale": {"domain": ["FoxO signaling pathway","Autophagy – animal","AMPK signaling pathway","Longevity regulating pathway","mTOR signaling pathway"], "range": ["#8DD3C7","#FFFFB3","#BEBADA","#FB8072","#80B1D3"]}, "legend": null}
}
},
{
"data": {"name": "ribbons"},
"transform": [{"filter": {"field": "t", "equal": "AMPK signaling pathway"}}, {"flatten": ["k"]}],
"mark": {"type": "line", "interpolate": "basis", "stroke": "black", "strokeWidth": 1.8, "strokeJoin": "round"},
"encoding": {
"x": {"field": "x", "type": "quantitative", "scale": {"domain": [-1.49758, 4.38323], "nice": false, "zero": false}, "axis": null},
"y": {"field": "y", "type": "quantitative", "scale": {"domain": [-1.45987, 1.58708], "nice": false, "zero": false}, "axis": null},
"order": {"field": "o", "type": "quantitative"},
"detail": {"field": "r", "type": "nominal"},
"fill": {"field": "t", "type": "nominal", "scale": {"domain": ["FoxO signaling pathway","Autophagy – animal","AMPK signaling pathway","Longevity regulating pathway","mTOR signaling pathway"], "range": ["#8DD3C7","#FFFFB3","#BEBADA","#FB8072","#80B1D3"]}, "legend": null}
}
},
{
"data": {"name": "ribbons"},
"transform": [{"filter": {"field": "t", "equal": "Longevity regulating pathway"}}, {"flatten": ["k"]}],
"mark": {"type": "line", "interpolate": "basis", "stroke": "black", "strokeWidth": 1.8, "strokeJoin": "round"},
"encoding": {
"x": {"field": "x", "type": "quantitative", "scale": {"domain": [-1.49758, 4.38323], "nice": false, "zero": false}, "axis": null},
"y": {"field": "y", "type": "quantitative", "scale": {"domain": [-1.45987, 1.58708], "nice": false, "zero": false}, "axis": null},
"order": {"field": "o", "type": "quantitative"},
"detail": {"field": "r", "type": "nominal"},
"fill": {"field": "t", "type": "nominal", "scale": {"domain": ["FoxO signaling pathway","Autophagy – animal","AMPK signaling pathway","Longevity regulating pathway","mTOR signaling pathway"], "range": ["#8DD3C7","#FFFFB3","#BEBADA","#FB8072","#80B1D3"]}, "legend": null}
}
},
{
"data": {"name": "ribbons"},
"transform": [{"filter": {"field": "t", "equal": "mTOR signaling pathway"}}, {"flatten": ["k"]}],
"mark": {"type": "line", "interpolate": "basis", "stroke": "black", "strokeWidth": 1.8, "strokeJoin": "round"},
"encoding": {
"x": {"field": "x", "type": "quantitative", "scale": {"domain": [-1.49758, 4.38323], "nice": false, "zero": false}, "axis": null},
"y": {"field": "y", "type": "quantitative", "scale": {"domain": [-1.45987, 1.58708], "nice": false, "zero": false}, "axis": null},
"order": {"field": "o", "type": "quantitative"},
"detail": {"field": "r", "type": "nominal"},
"fill": {"field": "t", "type": "nominal", "scale": {"domain": ["FoxO signaling pathway","Autophagy – animal","AMPK signaling pathway","Longevity regulating pathway","mTOR signaling pathway"], "range": ["#8DD3C7","#FFFFB3","#BEBADA","#FB8072","#80B1D3"]}, "legend": null}
}
},
{
"data": {"name": "dots"},
"mark": {"type": "point", "filled": true, "color": "black", "opacity": 1},
"encoding": {
"x": {"field": "x", "type": "quantitative", "scale": {"domain": [-1.3628, 3.98874], "nice": false, "zero": false}, "axis": null},
"y": {"field": "y", "type": "quantitative", "scale": {"domain": [-1.32848, 1.44424], "nice": false, "zero": false}, "axis": null},
"size": {"field": "s", "type": "quantitative", "scale": {"domain": [0, 9], "range": [0, 707]}, "legend": null}
}
},
{
"data": {"name": "labels"},
"mark": {"type": "text", "align": "right", "baseline": "middle", "fontSize": 48, "font": "Liberation Sans", "color": "black"},
"encoding": {
"x": {"field": "x", "type": "quantitative", "scale": {"domain": [-1.3628, 3.98874], "nice": false, "zero": false}, "axis": null},
"y": {"field": "y", "type": "quantitative", "scale": {"domain": [-1.32848, 1.44424], "nice": false, "zero": false}, "axis": null},
"text": {"field": "g", "type": "nominal"},
"angle": {"field": "a", "type": "quantitative", "scale": null}
}
},
{
"data": {"name": "edges"},
"transform": [
{"lookup": "a", "from": {"data": {"name": "nodes"}, "key": "id", "fields": ["x", "y"]}, "as": ["ax", "ay"]},
{"lookup": "b", "from": {"data": {"name": "nodes"}, "key": "id", "fields": ["x", "y"]}, "as": ["bx", "by"]}
],
"mark": {"type": "rule", "color": "#CCCCCC", "strokeCap": "butt"},
"encoding": {
"x": {"field": "ax", "type": "quantitative", "scale": {"domain": [0, 1568], "nice": false, "zero": false}, "axis": null},
"y": {"field": "ay", "type": "quantitative", "scale": {"domain": [0, 915], "nice": false, "zero": false, "reverse": true}, "axis": null},
"x2": {"field": "bx"},
"y2": {"field": "by"},
"strokeWidth": {"field": "s", "type": "quantitative", "scale": {"domain": [0, 1], "range": [0, 24]}, "legend": null}
}
},
{
"data": {"name": "nodes"},
"mark": {"type": "point", "filled": true, "color": "#F8A1B8", "opacity": 1, "size": 5300},
"encoding": {
"x": {"field": "x", "type": "quantitative", "scale": {"domain": [0, 1568], "nice": false, "zero": false}, "axis": null},
"y": {"field": "y", "type": "quantitative", "scale": {"domain": [0, 915], "nice": false, "zero": false, "reverse": true}, "axis": null}
}
},
{
"data": {"name": "nodes"},
"mark": {"type": "text", "align": "center", "baseline": "middle", "fontSize": 48, "font": "Liberation Sans", "color": "black"},
"encoding": {
"x": {"field": "x", "type": "quantitative", "scale": {"domain": [0, 1568], "nice": false, "zero": false}, "axis": null},
"y": {"field": "y", "type": "quantitative", "scale": {"domain": [0, 915], "nice": false, "zero": false, "reverse": true}, "axis": null},
"text": {"field": "id", "type": "nominal"}
}
},
{
"data": {"name": "headers"},
"mark": {"type": "text", "align": "left", "baseline": "alphabetic", "fontSize": 70, "fontWeight": "bold", "font": "Liberation Sans", "color": "black"},
"encoding": {
"x": {"field": "x", "type": "quantitative", "scale": {"domain": [0, 1568], "nice": false, "zero": false}, "axis": null},
"y": {"field": "y", "type": "quantitative", "scale": {"domain": [0, 915], "nice": false, "zero": false, "reverse": true}, "axis": null},
"text": {"field": "label", "type": "nominal"}
}
},
{
"data": {"name": "subtitles"},
"mark": {"type": "text", "align": "left", "baseline": "alphabetic", "fontSize": 44, "font": "Liberation Sans", "color": "black"},
"encoding": {
"x": {"field": "x", "type": "quantitative", "scale": {"domain": [0, 1568], "nice": false, "zero": false}, "axis": null},
"y": {"field": "y", "type": "quantitative", "scale": {"domain": [0, 915], "nice": false, "zero": false, "reverse": true}, "axis": null},
"text": {"field": "label", "type": "nominal"}
}
}
]
}
